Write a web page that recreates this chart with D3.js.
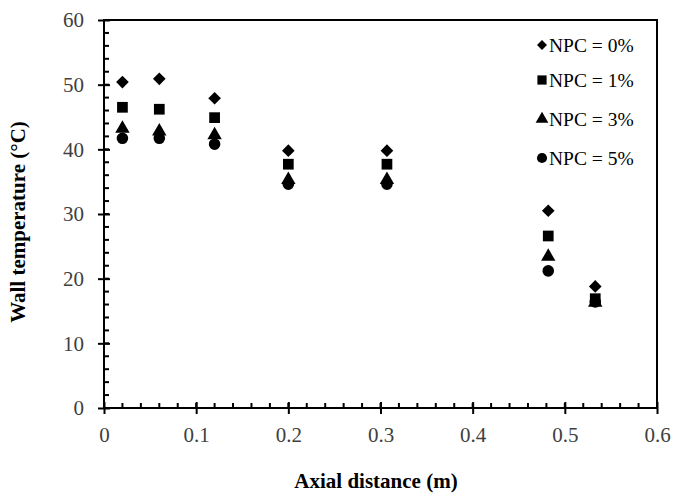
<!DOCTYPE html>
<html><head><meta charset="utf-8">
<script src="https://cdn.jsdelivr.net/npm/d3@7"></script>
<style>body{margin:0;background:#fff}</style>
</head><body>
<svg id="c" width="675" height="497"></svg>
<script>
const xPos = [0.02, 0.06, 0.12, 0.2, 0.307, 0.482, 0.533];
const npc0 = [50.4, 50.9, 47.9, 39.8, 39.8, 30.5, 18.8];
const npc1 = [46.5, 46.2, 44.9, 37.7, 37.7, 26.6, 16.9];
const npc3 = [43.2, 42.8, 42.2, 35.3, 35.3, 23.4, 16.3];
const npc5 = [41.7, 41.7, 40.8, 34.6, 34.6, 21.2, 16.4];
const seriesNames = ["NPC = 0%", "NPC = 1%", "NPC = 3%", "NPC = 5%"];
const xTicks = [0, 0.1, 0.2, 0.3, 0.4, 0.5, 0.6];
const yTicks = [0, 10, 20, 30, 40, 50, 60];

// square diamond (rotated square)
const symbolRhomb = {
  draw(ctx, size) {
    const r = Math.sqrt(size / 2);
    ctx.moveTo(0, -r); ctx.lineTo(r, 0); ctx.lineTo(0, r); ctx.lineTo(-r, 0); ctx.closePath();
  }
};

const series = [
  {name: seriesNames[0], vals: npc0, sym: symbolRhomb, size: 80, lsize: 50},
  {name: seriesNames[1], vals: npc1, sym: d3.symbolSquare, size: 115, lsize: 85},
  {name: seriesNames[2], vals: npc3, sym: d3.symbolTriangle, size: 90, lsize: 70},
  {name: seriesNames[3], vals: npc5, sym: d3.symbolCircle, size: 105, lsize: 80}
];

const svg = d3.select("#c");
const L = 104, R = 657, T = 20, B = 408;
const x = d3.scaleLinear().domain([0, 0.6]).range([L, R]);
const y = d3.scaleLinear().domain([0, 60]).range([B, T]);
const font = "'Liberation Serif','Times New Roman',serif";

// frame
svg.append("rect").attr("x", L).attr("y", T).attr("width", R - L).attr("height", B - T)
  .attr("fill", "none").attr("stroke", "#000").attr("stroke-width", 2);

// minor ticks (inside)
const xMinor = d3.range(0, 31).map(i => i * 0.02);
svg.append("g").selectAll("line").data(xMinor).join("line")
  .attr("x1", d => x(d)).attr("x2", d => x(d)).attr("y1", B).attr("y2", B - 5)
  .attr("stroke", "#000").attr("stroke-width", 2);
const yMinor = d3.range(0, 31).map(i => i * 2);
svg.append("g").selectAll("line").data(yMinor).join("line")
  .attr("y1", d => y(d)).attr("y2", d => y(d)).attr("x1", L).attr("x2", L + 5)
  .attr("stroke", "#000").attr("stroke-width", 2);

// axes with major ticks
const xAxis = svg.append("g").attr("transform", `translate(0,${B})`)
  .call(d3.axisBottom(x).tickValues(xTicks).tickSize(6).tickPadding(13).tickFormat(d => d === 0 ? "0" : d3.format(".1f")(d)));
const yAxis = svg.append("g").attr("transform", `translate(${L},0)`)
  .call(d3.axisLeft(y).tickValues(yTicks).tickSize(6).tickPadding(14));
[xAxis, yAxis].forEach(g => {
  g.select(".domain").remove();
  g.selectAll(".tick line").attr("stroke", "#000").attr("stroke-width", 2);
  g.selectAll("text").attr("font-family", font).attr("font-size", 21).attr("fill", "#404040");
});
xAxis.selectAll(".tick line").attr("y1", -6);
yAxis.selectAll(".tick line").attr("x1", 6);

// points
series.forEach(s => {
  svg.append("g").selectAll("path").data(s.vals.map((v, i) => [xPos[i], v])).join("path")
    .attr("d", d3.symbol().type(s.sym).size(s.size))
    .attr("transform", d => `translate(${x(d[0])},${y(d[1])})`)
    .attr("fill", "#000");
});

// legend
const legY = [45, 80, 119, 158];
series.forEach((s, i) => {
  svg.append("path").attr("d", d3.symbol().type(s.sym).size(s.lsize))
    .attr("transform", `translate(542,${legY[i]})`).attr("fill", "#000");
  svg.append("text").attr("x", 549).attr("y", legY[i]).attr("dy", "0.35em")
    .attr("font-family", font).attr("font-size", 19.5).attr("fill", "#000").text(s.name);
});

// titles
svg.append("text").attr("x", 376).attr("y", 488).attr("text-anchor", "middle")
  .attr("font-family", font).attr("font-size", 21).attr("font-weight", "bold").text("Axial distance (m)");
svg.append("text").attr("transform", `translate(25,${(T + B) / 2 + 8}) rotate(-90)`).attr("text-anchor", "middle")
  .attr("font-family", font).attr("font-size", 21).attr("font-weight", "bold").text("Wall temperature (°C)");
</script>
</body></html>
